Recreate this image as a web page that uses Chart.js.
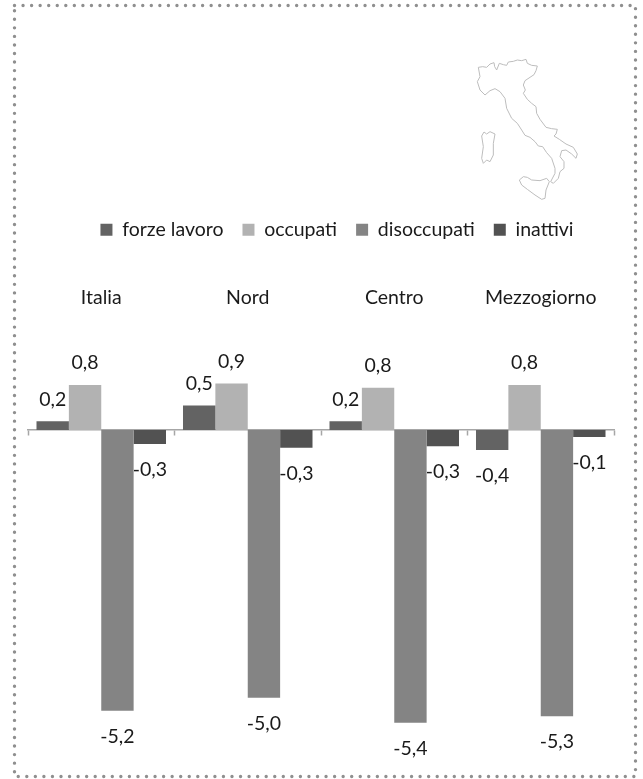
<!DOCTYPE html>
<html>
<head>
<meta charset="utf-8">
<title>Italia</title>
<script src="https://cdn.jsdelivr.net/npm/chart.js@4/dist/chart.umd.min.js"></script>
<style>
  html, body { margin: 0; padding: 0; background: #fff; }
  canvas { display: block; }
</style>
</head>
<body>
<canvas id="grafico" width="643" height="779"></canvas>
<script>
// valori
const aree = ['Italia', 'Nord', 'Centro', 'Mezzogiorno'];
const forzeLavoro = [0.16, 0.45, 0.16, -0.37];
const occupati = [0.83, 0.86, 0.78, 0.83];
const disoccupati = [-5.2, -4.96, -5.42, -5.3];
const inattivi = [-0.26, -0.33, -0.3, -0.13];

const FONT = 'Lato, sans-serif';
const FONT_SIZE = 19.5;
const TESTO = '#1a1a1a';
const GRIGIO_ASSE = '#a6a6a6';

// sagoma dell'Italia, ricalcata a mano (coordinate del riquadro 480x570)
const sagome = [
    'M115 112 128 110 140 112 150 102 162 98 164 110 170 120 178 100 190 104 200 106 205 96 220 94 232 90 245 92 258 88 262 100 275 106 292 108 288 122 282 134 270 142 255 152 250 165 256 180 250 190 262 208 275 220 288 230 290 250 300 268 318 292 335 296 352 298 348 312 342 318 358 328 378 342 400 352 412 372 408 385 395 372 378 360 365 362 360 380 372 395 372 415 360 425 355 445 340 460 332 455 345 430 345 415 335 385 320 368 308 350 295 348 285 335 270 322 255 316 245 300 232 280 215 265 200 235 195 205 180 185 165 176 150 182 135 195 120 180 112 155 120 140Z',
    'M125 318 132 306 140 312 150 305 165 312 160 340 160 375 150 395 140 390 130 400 125 385 130 350Z',
    'M238 450 250 440 262 442 275 450 300 452 320 445 328 455 318 480 315 505 305 508 285 495 262 478 245 465Z'
];

// cornice punteggiata e mappa
const cornice = {
    id: 'cornice',
    beforeDraw(chart) {
        const ctx = chart.ctx;
        ctx.save();
        ctx.strokeStyle = '#8f8f8f';
        ctx.lineWidth = 3.4;
        ctx.lineCap = 'round';
        ctx.setLineDash([0, 8.55]);
        ctx.strokeRect(14.5, 5.5, 621, 771);
        ctx.restore();

        ctx.save();
        ctx.translate(440, 30);
        ctx.scale(1 / 3, 1 / 3);
        ctx.strokeStyle = '#bdbdbd';
        ctx.lineWidth = 3;
        ctx.lineJoin = 'round';
        for (const s of sagome) {
            ctx.stroke(new Path2D(s));
        }
        ctx.restore();
    }
};

// sposta la legenda: nell'originale non e' centrata sull'area del grafico
const spostaLegenda = {
    id: 'spostaLegenda',
    afterLayout(chart) {
        chart.legend.left += 16;
        chart.legend.right += 16;
    }
};

// etichette dei valori, con la virgola decimale
const etichette = {
    id: 'etichette',
    afterDatasetsDraw(chart) {
        const ctx = chart.ctx;
        ctx.save();
        ctx.font = FONT_SIZE + 'px ' + FONT;
        ctx.fillStyle = TESTO;
        ctx.textAlign = 'center';
        ctx.textBaseline = 'middle';
        chart.data.datasets.forEach((ds, i) => {
            chart.getDatasetMeta(i).data.forEach((bar, j) => {
                const v = ds.data[j];
                const y = v >= 0 ? bar.y - 22 : bar.y + 26;
                ctx.fillText(v.toFixed(1).replace('.', ','), bar.x, y);
            });
        });
        ctx.restore();
    }
};

const barre = (label, data, color) => ({
    label,
    data,
    backgroundColor: color,
    barPercentage: 1,
    categoryPercentage: 0.884
});

new Chart(document.getElementById('grafico'), {
    type: 'bar',
    data: {
        labels: aree,
        datasets: [
            barre('forze lavoro', forzeLavoro, '#636363'),
            barre('occupati', occupati, '#b2b2b2'),
            barre('disoccupati', disoccupati, '#848484'),
            barre('inattivi', inattivi, '#525252')
        ]
    },
    options: {
        responsive: false,
        animation: false,
        layout: { padding: { top: 201, left: 28, right: 29, bottom: 25 } },
        plugins: {
            tooltip: { enabled: false },
            legend: {
                position: 'top',
                labels: {
                    boxWidth: 12,
                    boxHeight: 12,
                    padding: 19,
                    color: TESTO,
                    font: { family: FONT, size: FONT_SIZE }
                }
            }
        },
        scales: {
            x: {
                position: { y: 0 },
                border: { color: GRIGIO_ASSE, width: 1.5 },
                grid: { drawOnChartArea: false, tickLength: 5, tickColor: GRIGIO_ASSE, tickWidth: 1.5 },
                ticks: { display: false }
            },
            xTop: {
                type: 'category',
                axis: 'x',
                position: 'top',
                border: { display: false },
                grid: { display: false },
                ticks: { color: TESTO, padding: 4, maxRotation: 0, font: { family: FONT, size: FONT_SIZE } },
                // spazio tra legenda e nomi delle aree
                afterFit(scale) { scale.height += 33; }
            },
            y: { display: false, min: -6, max: 2 }
        }
    },
    plugins: [cornice, spostaLegenda, etichette]
});
</script>
</body>
</html>
